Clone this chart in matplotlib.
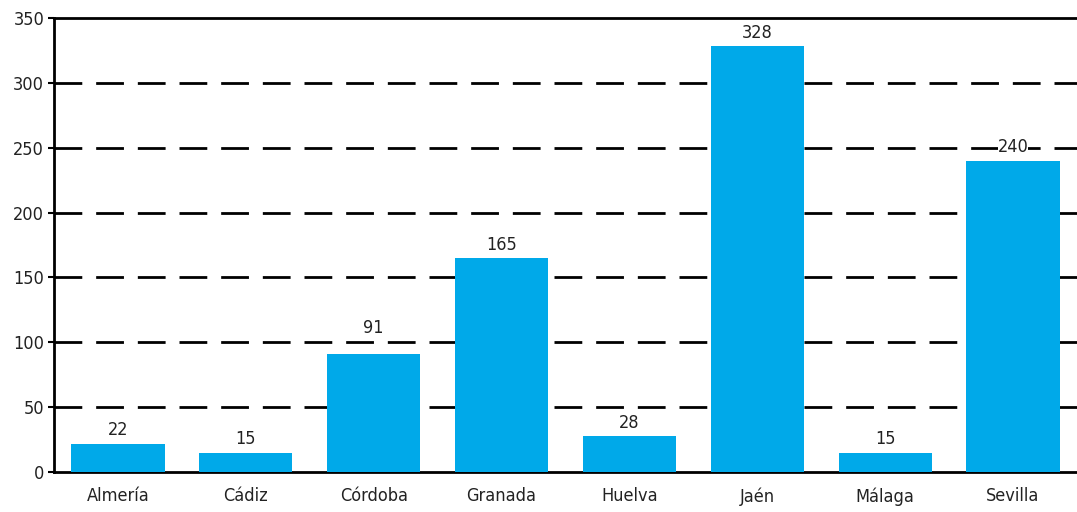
import matplotlib.pyplot as plt

provincias = ['Almería', 'Cádiz', 'Córdoba', 'Granada', 'Huelva', 'Jaén', 'Málaga', 'Sevilla']
valores = [22, 15, 91, 165, 28, 328, 15, 240]
y_ticks = [0, 50, 100, 150, 200, 250, 300, 350]

# fuente estrecha (DejaVu Sans Condensed)
plt.rcParams['font.family'] = ['DejaVu Sans']
plt.rcParams['font.stretch'] = 'condensed'

fig = plt.figure(figsize=(10.77, 5.12), dpi=100)
ax = fig.add_axes([0.0501, 0.078, 0.9499, 0.887])

x = range(len(provincias))
ax.bar(x, valores, width=0.73, color='#00A9E9', zorder=3)

# etiquetas de valor
for i, v in enumerate(valores):
    extra = 9 if provincias[i] == 'Córdoba' else 0
    ax.annotate(str(v), (i, v), xytext=(0, 3 + extra), textcoords='offset points',
                ha='center', va='bottom', fontsize=13, color='#222222', zorder=4,
                bbox=dict(facecolor='white', edgecolor='none', pad=0))

ax.set_xlim(-0.5, len(provincias) - 0.5)
ax.set_ylim(0, 350)
ax.set_yticks(y_ticks)
ax.set_xticks(list(x))
ax.set_xticklabels(provincias)
ax.tick_params(axis='y', length=4, width=1.5, labelsize=13, pad=3, labelcolor='#222222')
ax.tick_params(axis='x', length=0, labelsize=13, pad=11, labelcolor='#222222')

for t in y_ticks[1:-1]:
    ax.axhline(t, color='black', lw=2, ls=(0, (10, 5)), zorder=2)

for s in ['left', 'bottom', 'top']:
    ax.spines[s].set_linewidth(2)
ax.spines['right'].set_visible(False)

fig.savefig('out.png', dpi=100)
